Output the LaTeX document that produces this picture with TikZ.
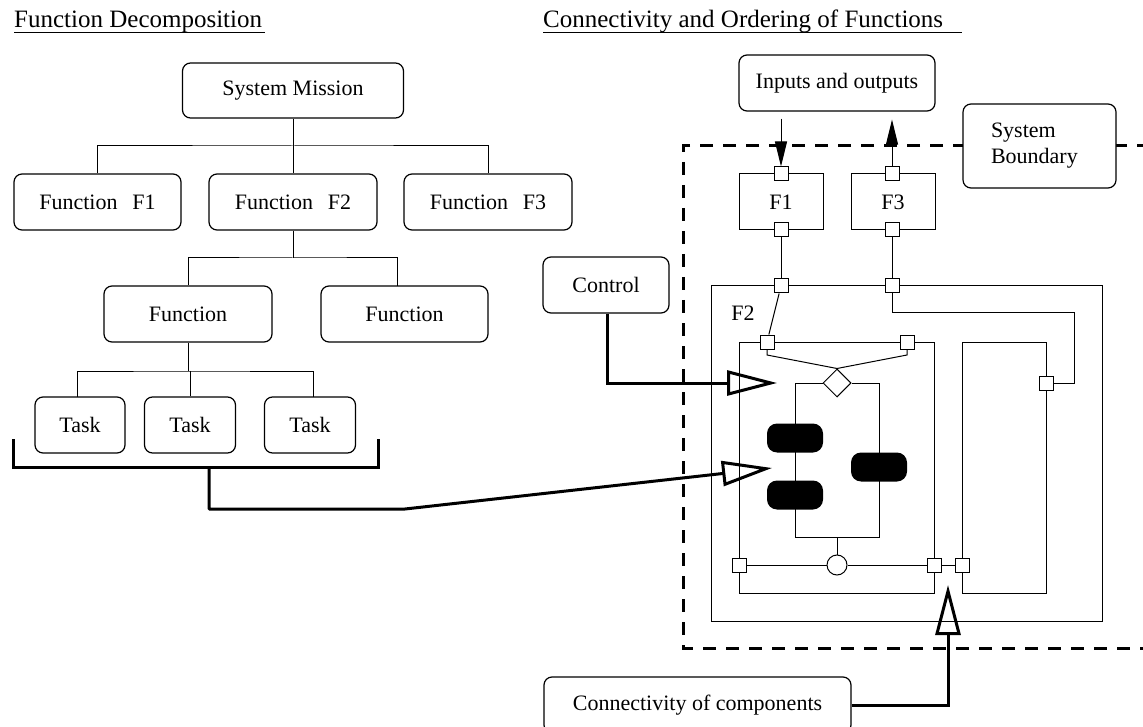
\documentclass[tikz,border=0pt]{standalone}
\usepackage{fontspec}
\setmainfont{Liberation Serif}
\usetikzlibrary{arrows.meta,shapes.geometric}
\begin{document}
\begin{tikzpicture}[x=1pt,y=-1pt,
  rbox/.style={draw, rounded corners=8pt, line width=1.2pt, inner sep=0pt, font=\fontsize{22}{26}\selectfont},
  fbox/.style={draw, line width=1pt, inner sep=0pt, minimum width=84pt, minimum height=56pt, font=\fontsize{22}{26}\selectfont},
  port/.style={draw, fill=white, line width=1pt, minimum size=14pt, inner sep=0pt},
  pill/.style={fill=black, rounded corners=10pt, minimum width=56pt, minimum height=29pt, inner sep=0pt},
  wire/.style={line width=1pt},
  heavy/.style={line width=3pt},
  openarrow/.style={-{Triangle[open,length=50pt,width=25pt]}, line width=3pt},
  fillarrow/.style={-{Triangle[length=25pt,width=12pt]}, line width=1pt},
  title/.style={font=\fontsize{25}{30}\selectfont, anchor=base west, inner sep=0pt},
  boundary/.style={line width=3pt, dash pattern=on 13pt off 10pt}
]
\useasboundingbox (0,0) rectangle (1143,727);
\clip (0,0) rectangle (1143,727);

% titles
\node[title] (t-left) at (14,28) {Function Decomposition};
\node[title] (t-right) at (543,28) {Connectivity and Ordering of Functions};
\draw[wire] (14,33) -- (265,33);
\draw[wire] (543,33) -- (962,33);

% system boundary
\draw[boundary] (1150,146) -- (683,146) -- (683,648) -- (1150,648);

% ---------- left tree ----------
\node[rbox, minimum width=221pt, minimum height=55pt] (sm) at (293,90.5) {System Mission};
\node[rbox, minimum width=167pt, minimum height=56pt] (f1) at (97.5,202) {Function\hspace{0.68em}F1};
\node[rbox, minimum width=168pt, minimum height=56pt] (f2) at (293,202) {Function\hspace{0.68em}F2};
\node[rbox, minimum width=168pt, minimum height=56pt] (f3) at (488,202) {Function\hspace{0.68em}F3};
\node[rbox, minimum width=168pt, minimum height=56pt] (fa) at (188,314) {Function};
\node[rbox, minimum width=167pt, minimum height=56pt] (fb) at (404.5,314) {Function};
\node[rbox, minimum width=90pt, minimum height=56pt] (ta) at (80,425) {Task};
\node[rbox, minimum width=91pt, minimum height=56pt] (tb) at (190,425) {Task};
\node[rbox, minimum width=91pt, minimum height=56pt] (tc) at (310,425) {Task};

\coordinate (j1) at (293,146);
\coordinate (j2) at (293,258);
\coordinate (j3) at (188,371);
\coordinate (fbin) at (397,286);
\coordinate (tain) at (77,397);
\coordinate (tcin) at (313,397);
\draw[wire] (sm.south) -- (f2.north);
\draw[wire] (f1.north) |- (j1) -| (f3.north);
\draw[wire] (f2.south) -- (j2);
\draw[wire] (fa.north) |- (j2) -| (fbin);
\draw[wire] (fa.south) -- (j3);
\draw[wire] (tain) |- (j3) -| (tcin);
\draw[wire] (tb.north) -- (tb.north |- j3);

% bracket under tasks
\coordinate (bl) at (13,439);
\coordinate (br) at (378,439);
\coordinate (bm) at (209,467);
\coordinate (bk) at (405,509);
\coordinate (tasktip) at (772,468);
\draw[heavy, line join=miter] (bl) -- (13,467) -- (378,467) -- (br);
\draw[openarrow, line join=round] (bm) -- (209,509) -- (bk) -- (tasktip);

% ---------- right side ----------
\node[rbox, minimum width=196pt, minimum height=56pt] (io) at (837,83) {Inputs and outputs};
\node[rbox, minimum width=126pt, minimum height=56pt] (ctrl) at (606,285) {Control};
\node[rbox, minimum width=307pt, minimum height=56pt] (conn) at (697.5,705) {Connectivity of components};

% function boxes
\node[fbox] (F1) at (781,202) {F1};
\node[fbox] (F3) at (893,202) {F3};
\draw[wire] (711,286) rectangle (1102,621);
\node[font=\fontsize{22}{26}\selectfont, inner sep=0pt] (F2lab) at (743,313) {F2};
\draw[wire] (739,342) rectangle (934,593);
\draw[wire] (962,342) rectangle (1046,593);

% ports
\node[port] (p1t) at (781,174) {};
\node[port] (p1b) at (781,230) {};
\node[port] (p3t) at (892,174) {};
\node[port] (p3b) at (892,230) {};
\node[port] (po1) at (781,286) {};
\node[port] (po3) at (892,286) {};
\node[port] (pi1) at (767,342) {};
\node[port] (pi2) at (907,342) {};
\node[port] (pl) at (739,565) {};
\node[port] (pr) at (934,565) {};
\node[port] (pr2) at (962,565) {};
\node[port] (prr) at (1046,383) {};

% decision / merge
\node[diamond, draw, fill=white, line width=1pt, minimum width=28pt, minimum height=28pt, inner sep=0pt] (dia) at (837,383) {};
\node[circle, draw, fill=white, line width=1pt, minimum size=20pt, inner sep=0pt] (mrg) at (837,565) {};

% internal wiring
\draw[wire] (p1b) -- (po1);
\draw[wire] (p3b) -- (po3);
\draw[wire] (po1) -- (pi1);
\draw[wire] (pi1.south) -- (767,355) -- (dia.north);
\draw[wire] (pi2.south) -- (907,355) -- (dia.north);
\draw[wire] (dia.west) -- (795,383) -- (795,537) -- (879,537) -- (879,383) -- (dia.east);
\draw[wire] (837,537) -- (mrg.north);
\draw[wire] (pl) -- (mrg.west);
\draw[wire] (mrg.east) -- (pr);
\draw[wire] (pr) -- (pr2);
\draw[wire] (po3) -- (892,313) -- (1074,313) -- (1074,383) -- (prr);

% pills
\node[pill] (k1) at (795,438) {};
\node[pill] (k2) at (795,495) {};
\node[pill] (k3) at (879,467) {};

% redraw ports on top of wiring
\foreach \p in {p1t,p1b,p3t,p3b,po1,po3,pi1,pi2,pl,pr,pr2,prr}
  \node[port] at (\p) {};

% inputs / outputs arrows
\draw[fillarrow] ([yshift=-7pt]io.south -| p1t) -- (p1t.north);
\draw[fillarrow] (p3t.north) -- ([yshift=-8pt]io.south -| p3t);

% thick arrows
\coordinate (ctip) at (777,383);
\draw[openarrow, line join=miter] (ctrl.south -| 607,0) -- (607,383) -- (ctip);
\coordinate (ktip) at (948,585);
\draw[openarrow, line join=miter] (conn.east) -- (948,705) -- (ktip);

% system boundary label
\node[rbox, fill=white, minimum width=153pt, minimum height=84pt, text width=97pt, align=left] (sb) at (1039.5,146) {System\\Boundary};
\end{tikzpicture}
\end{document}
